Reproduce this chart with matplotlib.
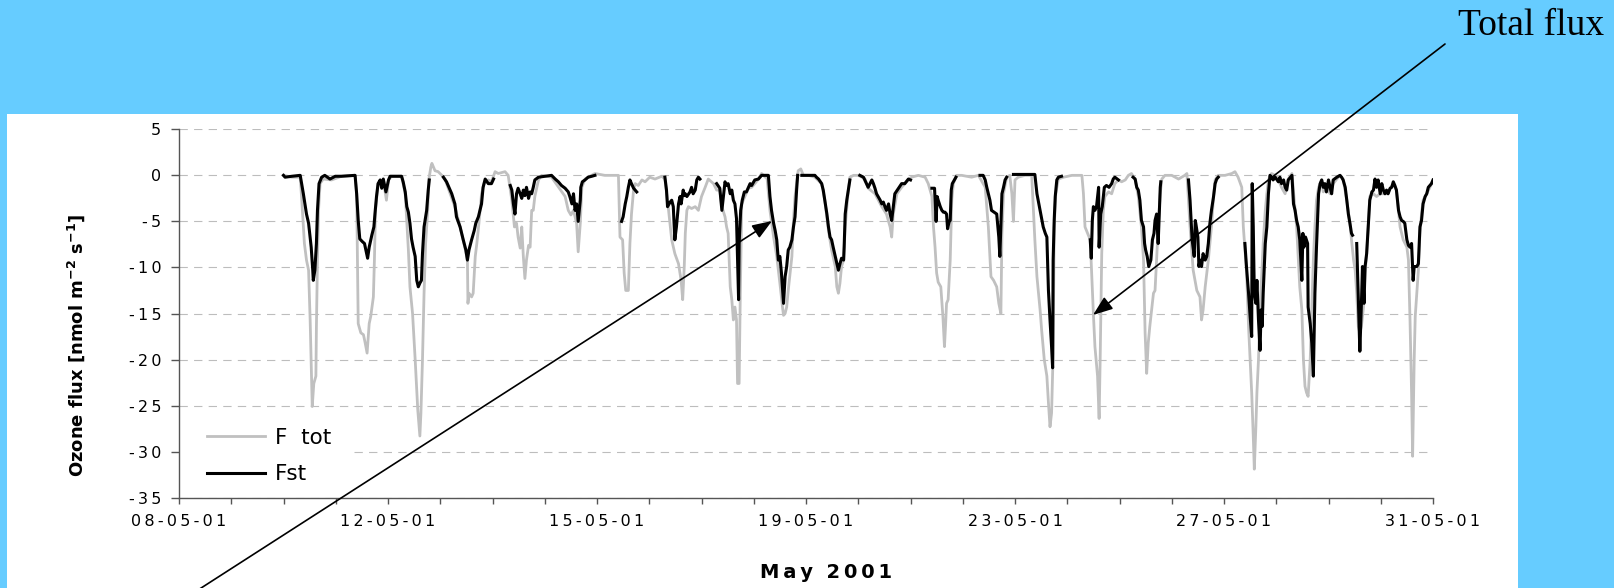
import numpy as np
import matplotlib
matplotlib.use('Agg')
import matplotlib.pyplot as plt
from matplotlib.patches import Rectangle

nan = np.nan

# x axis is a category axis: one tick per day, label every 4th tick
tick_labels = ['08-05-01', '12-05-01', '15-05-01', '19-05-01', '23-05-01', '27-05-01', '31-05-01']
label_pos = [0, 4, 8, 12, 16, 20, 24]
n_ticks = 25
y_ticks = [5, 0, -5, -10, -15, -20, -25, -30, -35]

# F tot (total ozone flux)
ftot_x = [2.00, 2.16, 2.32, 2.35, 2.40, 2.44, 2.48, 2.51, 2.54, 2.55, 2.58, 2.62, 2.63, 2.65, 2.67, 2.70, 2.76, 2.92, 3.11, 3.37,
          3.40, 3.43, 3.48, 3.53, 3.56, 3.60, 3.64, 3.67, 3.72, 3.74, 3.76, 3.81, 3.91, 3.97, 4.01, 4.07, 4.26,
          4.33, 4.39, 4.42, 4.47, 4.52, 4.57, 4.59, 4.61, 4.63, 4.66, 4.69, 4.72, 4.76, 4.78, 4.82, 4.84, 4.90, 4.96, 5.03, 5.09,
          5.19, 5.28, 5.38, 5.47, 5.52, 5.53, 5.55, 5.60, 5.63, 5.67, 5.70, 5.74, 5.79, 5.84, 5.92,
          5.98, 6.05, 6.11, 6.24, 6.30, 6.37, 6.42, 6.46, 6.49, 6.53, 6.56, 6.59, 6.62, 6.65, 6.69, 6.72, 6.75, 6.78, 6.81, 6.88, 6.94, 7.13,
          7.39, 7.45, 7.50, 7.55, 7.58, 7.61, 7.64, 7.68, 7.71, 7.77, 7.96, 8.15, 8.41,
          8.44, 8.49, 8.52, 8.55, 8.60, 8.63, 8.66, 8.70, 8.73, 8.79, 8.86, 8.92, 9.01, 9.11, 9.24, 9.30,
          9.37, 9.43, 9.49, 9.56, 9.61, 9.64, 9.67, 9.69, 9.72, 9.75, 9.81, 9.88, 9.94,
          10.00, 10.07, 10.13, 10.23, 10.29, 10.35, 10.39, 10.45, 10.48, 10.51, 10.55, 10.58, 10.61, 10.64, 10.67, 10.69, 10.72, 10.74,
          10.77, 10.83, 10.90, 10.96, 11.02, 11.09, 11.15, 11.22, 11.25,
          11.31, 11.38, 11.44, 11.50, 11.55, 11.57, 11.60, 11.63, 11.66, 11.73, 11.76, 11.79, 11.85, 11.90, 11.95, 12.05, 12.17,
          12.30, 12.36, 12.43, 12.49, 12.56, 12.59, 12.62, 12.65, 12.68, 12.72, 12.75, 12.81, 12.84, 12.91, 13.00, 13.07, 13.13,
          13.19, 13.32, 13.45, 13.54, 13.61, 13.64, 13.67, 13.74, 13.83, 13.96,
          14.02, 14.15, 14.28, 14.34, 14.41, 14.44, 14.47, 14.50, 14.53, 14.58, 14.62, 14.65, 14.67, 14.69, 14.72, 14.76, 14.79,
          14.82, 14.88, 14.98, 15.17, 15.30,
          15.43, 15.49, 15.54, 15.59, 15.65, 15.69, 15.73, 15.75, 15.78, 15.84, 15.90, 15.94, 15.97, 16.00, 16.06, 16.19, 16.32,
          16.38, 16.42, 16.45, 16.48, 16.51, 16.56, 16.61, 16.64, 16.67, 16.70, 16.73, 16.75, 16.78, 16.83, 16.93, 17.09, 17.28,
          17.31, 17.34, 17.39, 17.44, 17.47, 17.50, 17.53, 17.58, 17.61, 17.63, 17.66, 17.69, 17.72, 17.79, 17.85, 17.91, 17.98,
          18.04, 18.11, 18.17, 18.23, 18.30, 18.36, 18.42, 18.46, 18.49, 18.52, 18.55, 18.58, 18.62, 18.65, 18.68, 18.71, 18.74,
          18.78, 18.81, 18.87, 19.00, 19.13, 19.25, 19.29,
          19.32, 19.35, 19.41, 19.48, 19.54, 19.57, 19.60, 19.64, 19.70, 19.76, 19.80, 19.83, 19.89, 20.02, 20.15, 20.21, 20.27, 20.34,
          20.37, 20.43, 20.47, 20.50, 20.53, 20.56, 20.58, 20.61, 20.63, 20.66, 20.69, 20.75, 20.79, 20.82, 20.85, 20.91, 20.98,
          21.04, 21.10, 21.17, 21.23, 21.30,
          21.39, 21.45, 21.49, 21.52, 21.55, 21.58, 21.61, 21.65, 21.68, 21.71, 21.74, 21.77, 21.81, 21.87, 21.90, 21.96,
          22.03, 22.09, 22.16, 22.22, 22.28,
          22.35, 22.41, 22.44, 22.48, 22.51, 22.54, 22.57, 22.60, 22.63, 22.67, 22.70, 22.73, 22.76, 22.79, 22.86, 22.92, 22.99,
          23.11, 23.24, 23.30,
          23.37, 23.43, 23.50, 23.53, 23.56, 23.59, 23.61, 23.64, 23.66, 23.69, 23.72, 23.75, 23.78, 23.81, 23.88, 23.94, 24.00]
ftot_y = [0.0, -0.2, -0.2, -2.7, -7.4, -9.2, -10.3, -15.7, -22.6, -25.1, -22.6, -21.8, -16.4, -9.2, -3.8, -0.9, -0.4, -0.5, -0.1, 0.0,
          -2.0, -16.1, -17.1, -17.3, -18.1, -19.3, -16.1, -15.3, -13.2, -9.2, -3.8, -0.9, -0.5, -2.7, -0.5, -0.1, -0.1,
          -2.0, -8.1, -12.1, -15.0, -20.0, -25.5, -26.9, -28.3, -25.8, -20.0, -12.8, -7.4, -3.8, -0.5, 0.9, 1.3, 0.5, 0.4, 0.0, -0.4,
          -2.0, -3.4, -5.6, -7.8, -9.2, -13.9, -12.8, -13.2, -12.8, -8.8, -7.4, -5.2, -2.0, -0.9, -0.5,
          -0.7, 0.4, 0.2, 0.4, 0.0, -2.7, -5.6, -5.2, -6.7, -7.9, -5.6, -8.8, -11.2, -9.2, -7.6, -7.8, -3.8, -3.8, -2.3, -0.5, 0.0, -0.2,
          -2.3, -3.8, -4.3, -3.8, -4.5, -5.2, -8.3, -5.2, -1.3, -0.4, 0.2, 0.0, 0.0,
          -6.7, -7.0, -10.6, -12.5, -12.5, -7.4, -4.2, -1.6, -0.9, -1.1, -0.5, -0.7, -0.2, -0.4, -0.1, -0.4,
          -3.8, -7.0, -8.5, -9.6, -11.4, -13.5, -9.9, -6.3, -3.8, -3.4, -3.6, -3.4, -3.8,
          -2.3, -1.3, -0.4, -0.9, -1.6, -1.6, -3.4, -4.5, -5.6, -6.3, -12.1, -13.5, -15.7, -14.3, -15.7, -22.6, -22.6, -13.9,
          -3.1, -2.3, -1.4, -1.3, -0.9, -0.4, 0.2, -0.2, 0.0,
          -3.8, -6.7, -8.8, -11.7, -14.3, -15.2, -15.0, -14.3, -12.5, -8.8, -4.9, -2.3, 0.5, 0.7, 0.0, 0.0, -0.2,
          -0.9, -2.7, -6.0, -8.1, -9.9, -12.1, -12.8, -11.7, -9.9, -9.2, -5.6, -1.6, -0.2, 0.0, 0.0, -0.2, -0.4,
          -1.4, -2.0, -3.4, -4.2, -5.6, -6.7, -4.2, -2.0, -1.3, -0.5,
          -0.2, 0.0, -0.2, -0.9, -2.3, -5.6, -7.8, -10.6, -11.6, -12.1, -15.3, -18.6, -16.4, -13.9, -13.5, -9.2, -2.7,
          -0.9, 0.0, 0.0, -0.2, 0.0,
          -1.3, -5.6, -11.0, -11.4, -12.1, -13.9, -15.0, -6.3, -2.0, -0.2, 0.0, -2.0, -5.0, -0.5, -0.2, 0.0, 0.0,
          -7.0, -11.0, -12.8, -14.6, -16.8, -20.0, -21.8, -24.7, -27.3, -25.8, -19.3, -5.6, -2.0, -0.4, -0.2, 0.0, 0.0,
          -2.0, -5.6, -6.3, -7.0, -11.0, -15.0, -18.6, -21.8, -26.4, -20.0, -8.5, -3.8, -2.3, -1.8, -2.0, -0.9, -0.5,
          -0.7, -0.5, 0.0, 0.2, -0.5, -2.3, -5.6, -9.2, -17.1, -21.5, -18.2, -16.4, -14.3, -12.8, -12.5, -9.2, -5.6,
          -2.0, -0.4, 0.0, 0.0, -0.4, 0.0, 0.2,
          -2.7, -5.6, -10.3, -12.5, -13.2, -15.7, -14.6, -12.1, -9.2, -5.6, -2.3, -0.5, 0.0, 0.0, 0.2, 0.4, -0.2, -1.3,
          -5.6, -10.3, -16.4, -20.0, -23.6, -28.3, -31.9, -27.3, -23.6, -20.0, -14.6, -7.4, -3.8, -2.0, -0.5, 0.2, 0.0,
          -0.4, -1.3, -2.0, -0.4, 0.2,
          -5.6, -12.1, -14.6, -20.0, -22.9, -23.6, -24.0, -20.0, -14.6, -9.2, -5.6, -2.7, -1.3, -0.5, -1.8, -1.3,
          -2.0, -0.9, -0.4, 0.0, -0.4,
          -2.7, -5.2, -7.0, -9.2, -10.3, -12.8, -16.4, -17.1, -16.4, -14.3, -10.6, -8.5, -5.6, -2.3, -2.0, -2.3, -2.0,
          -2.0, -0.9, -1.6,
          -5.6, -7.0, -7.8, -9.2, -15.7, -23.6, -30.5, -20.0, -15.3, -12.8, -10.3, -6.3, -4.2, -2.7, -2.0, -1.3, -0.6]

# Fst (stomatal ozone flux); nan = no data
fst_x = [2.00, 2.03, 2.16, 2.32, 2.38, 2.44, 2.48, 2.53, 2.56, 2.57, 2.60, 2.63, 2.65, 2.68, 2.73, 2.79, 2.89, 2.99, 3.11, 3.37,
         3.40, 3.43, 3.46, 3.51, 3.55, 3.59, 3.61, 3.64, 3.69, 3.73, 3.75, 3.78, 3.81, 3.85, 3.88, 3.91, 3.96, 4.01, 4.04, 4.26, 4.29,
         4.33, 4.36, 4.39, 4.42, 4.45, 4.48, 4.52, 4.55, 4.58, 4.61, 4.64, 4.66, 4.69, 4.74, 4.77, 4.79, 4.80,
         5.06, 5.12, 5.19, 5.22, 5.28, 5.31, 5.38, 5.44, 5.49, 5.52, 5.55, 5.60, 5.65, 5.68, 5.73, 5.79, 5.82, 5.86, 5.92, 5.98, 6.02, 6.03,
         6.34, 6.37, 6.40, 6.43, 6.46, 6.49, 6.53, 6.56, 6.59, 6.62, 6.65, 6.69, 6.72, 6.75, 6.78, 6.81, 6.88, 7.13,
         7.20, 7.26, 7.32, 7.39, 7.45, 7.48, 7.52, 7.55, 7.58, 7.61, 7.64, 7.68, 7.69, 7.72, 7.77, 7.83, 7.90, 7.96, 7.97,
         8.47, 8.50, 8.54, 8.57, 8.60, 8.63, 8.66, 8.70, 8.76, 8.77,
         9.30, 9.33, 9.35, 9.40, 9.43, 9.46, 9.49, 9.52, 9.56, 9.59, 9.61, 9.65, 9.67, 9.69, 9.72, 9.78, 9.81, 9.84, 9.88, 9.91, 9.94,
         9.97, 9.98,
         10.29, 10.35, 10.39, 10.42, 10.45, 10.48, 10.51, 10.55, 10.58, 10.61, 10.64, 10.67, 10.71, 10.72, 10.75, 10.78, 10.82, 10.86,
         10.90, 10.93, 10.96, 11.02, 11.09, 11.15, 11.28,
         11.31, 11.34, 11.38, 11.41, 11.44, 11.47, 11.50, 11.53, 11.57, 11.60, 11.63, 11.66, 11.69, 11.73, 11.76, 11.79, 11.82, 11.84, 11.85,
         11.92, 12.01, 12.17, 12.20, 12.24, 12.30, 12.33, 12.36, 12.40, 12.43, 12.46, 12.49, 12.52, 12.56, 12.59, 12.62, 12.65, 12.68,
         12.72, 12.73, 12.75, 12.78, 12.81, 12.84, 12.85,
         13.03, 13.10, 13.19, 13.26, 13.29, 13.32, 13.35, 13.38, 13.42, 13.45, 13.48, 13.51, 13.54, 13.58, 13.61, 13.64, 13.67, 13.70,
         13.77, 13.83, 13.89, 13.96, 14.00, 14.01,
         14.41, 14.46, 14.49, 14.51, 14.53, 14.57, 14.60, 14.63, 14.66, 14.69, 14.71, 14.74, 14.76, 14.78, 14.80, 14.84, 14.87, 14.88,
         15.33, 15.39, 15.43, 15.46, 15.49, 15.52, 15.55, 15.60, 15.65, 15.69, 15.71, 15.75, 15.78, 15.81, 15.84, 15.85,
         15.97, 16.38, 16.42, 16.45, 16.48, 16.51, 16.54, 16.58, 16.61, 16.64, 16.67, 16.70, 16.72, 16.73, 16.75, 16.77, 16.80, 16.83,
         16.89, 16.90,
         17.44, 17.46, 17.48, 17.50, 17.53, 17.56, 17.60, 17.61, 17.64, 17.67, 17.71, 17.75, 17.80, 17.85, 17.88, 17.91, 17.98, 18.01,
         18.26, 18.30, 18.33, 18.36, 18.39, 18.42, 18.46, 18.48, 18.50, 18.53, 18.56, 18.60, 18.63, 18.66, 18.68, 18.71, 18.74, 18.78,
         18.79, 18.80,
         19.32, 19.35, 19.37, 19.39, 19.43, 19.45, 19.46, 19.50, 19.52, 19.54, 19.57, 19.60, 19.64, 19.67, 19.70, 19.73, 19.76, 19.80,
         19.83, 19.86, 19.89, 19.90,
         20.40, 20.43, 20.47, 20.50, 20.53, 20.54, 20.56, 20.58, 20.61, 20.63, 20.66, 20.69, 20.71, 20.73, 20.75, 20.79, 20.82, 20.85,
         20.88, 20.91, 20.94, 20.98, 21.04, 21.07, 21.10, 21.14, 21.17, 21.20, 21.23, 21.30,
         21.33, 21.36, 21.39, 21.42, 21.45, 21.49, 21.51, 21.53, 21.56, 21.60, 21.61, 21.65, 21.68, 21.71, 21.74, 21.77, 21.81, 21.84,
         21.87, 21.90, 21.93, 21.96, 22.00, 22.03, 22.06, 22.09, 22.16, 22.22, 22.25, 22.28,
         22.32, 22.35, 22.38, 22.41, 22.44, 22.46, 22.47,
         22.54, 22.60, 22.63, 22.65, 22.68, 22.70, 22.73, 22.76, 22.79, 22.83, 22.86, 22.89, 22.92, 22.95, 22.99, 23.02, 23.05, 23.08,
         23.11, 23.14, 23.18, 23.21, 23.24, 23.27, 23.30,
         23.34, 23.37, 23.40, 23.43, 23.46, 23.50, 23.53, 23.56, 23.59, 23.62, 23.64, 23.69, 23.72, 23.75, 23.78, 23.81, 23.85, 23.88,
         23.91, 23.94, 23.97, 24.00]
fst_y = [0.0, -0.2, -0.1, 0.0, -2.0, -4.2, -5.2, -7.8, -10.3, -11.4, -10.3, -7.4, -3.8, -0.9, -0.2, 0.0, -0.4, -0.1, -0.1, 0.0,
         -2.0, -4.9, -6.9, -7.2, -7.4, -8.5, -9.0, -7.8, -6.5, -5.6, -4.2, -2.3, -0.9, -0.5, -1.4, -0.4, -1.8, -0.5, -0.1, -0.1, -0.7,
         -1.8, -3.4, -4.0, -5.2, -6.9, -7.8, -8.8, -11.4, -12.1, -11.7, -11.4, -8.5, -5.6, -3.8, -1.6, -0.5, nan,
         -0.2, -0.7, -1.6, -2.0, -3.1, -4.5, -5.6, -7.0, -8.1, -9.2, -8.1, -7.0, -6.0, -5.2, -4.5, -3.1, -1.3, -0.4, -0.9, -0.9, -0.4, nan,
         -1.1, -1.6, -3.1, -4.2, -2.0, -1.4, -2.0, -2.5, -1.6, -2.2, -1.3, -2.5, -1.8, -2.0, -1.3, -0.5, -0.2, 0.0,
         -0.4, -0.7, -1.1, -1.4, -1.8, -2.3, -3.1, -2.0, -3.8, -3.1, -5.0, -2.7, -1.3, -0.7, -0.5, -0.2, -0.1, 0.0, nan,
         -5.0, -4.5, -3.1, -2.3, -1.3, -0.5, -0.9, -1.4, -1.8, nan,
         -0.2, -1.6, -3.4, -2.9, -2.7, -3.4, -7.0, -5.6, -3.1, -2.3, -3.1, -1.6, -2.2, -2.0, -2.3, -1.8, -1.3, -2.0, -1.6, -0.5, -0.2,
         -0.4, nan,
         -0.9, -1.4, -3.8, -2.3, -0.7, -1.1, -0.9, -2.0, -1.6, -2.7, -3.1, -4.7, -13.5, -7.4, -3.8, -2.7, -1.8, -1.8,
         -1.3, -0.9, -1.1, -0.5, -0.4, 0.0, 0.0,
         -2.3, -3.8, -5.2, -6.0, -7.0, -9.2, -8.8, -10.6, -13.9, -11.0, -9.9, -8.1, -7.8, -7.0, -5.6, -4.5, -1.6, 0.0, nan,
         0.0, 0.0, 0.0, -0.2, -0.4, -0.9, -1.6, -2.7, -4.2, -5.6, -6.7, -7.0, -7.8, -8.8, -9.6, -10.3, -9.6, -9.0,
         -9.2, -7.8, -4.2, -2.7, -1.6, -0.5, nan,
         0.0, -0.2, -1.3, -0.5, -0.9, -1.4, -2.0, -2.3, -2.7, -3.1, -2.9, -3.4, -3.8, -3.1, -4.2, -4.9, -3.4, -2.0,
         -1.4, -0.9, -0.9, -0.4, -0.5, nan,
         -1.4, -1.4, -5.0, -2.3, -2.7, -3.4, -3.8, -4.0, -4.0, -4.2, -5.8, -5.0, -4.9, -1.6, -0.9, -0.5, -0.2, nan,
         0.0, 0.0, -0.5, -1.3, -2.0, -2.7, -3.8, -4.0, -4.2, -6.7, -8.8, -2.0, -1.3, -0.5, -0.2, nan,
         0.1, 0.1, -2.0, -2.9, -3.8, -4.7, -5.6, -6.3, -6.7, -12.5, -15.7, -18.6, -20.9, -9.2, -4.9, -2.3, -0.5, -0.2,
         -0.1, nan,
         -7.0, -9.0, -4.9, -3.4, -3.8, -3.4, -1.3, -7.8, -4.2, -3.4, -1.3, -1.1, -1.3, -0.9, -0.4, -0.2, -0.5, nan,
         -0.2, -0.4, -1.3, -1.6, -2.7, -4.9, -5.6, -7.4, -8.1, -8.8, -9.9, -9.2, -7.0, -6.3, -4.9, -4.2, -7.4, -1.3,
         -0.7, nan,
         -0.5, -2.7, -4.9, -7.0, -8.8, -4.9, -5.2, -6.7, -9.9, -9.2, -9.9, -8.5, -9.2, -8.8, -7.4, -5.2, -3.8, -2.3,
         -0.9, -0.4, -0.2, nan,
         -7.4, -9.9, -12.8, -15.3, -17.5, -0.9, -5.6, -12.8, -13.9, -11.4, -15.7, -19.0, -14.6, -16.4, -12.8, -7.4, -5.6, -2.0,
         0.0, -0.2, -0.5, -0.2, -0.7, -0.2, -0.9, -0.5, -1.3, -1.6, -0.5, 0.0,
         -3.1, -3.8, -4.9, -5.6, -7.0, -11.4, -6.3, -7.8, -6.7, -7.4, -14.3, -16.1, -18.2, -21.8, -12.8, -7.8, -2.0, -0.9,
         -0.5, -1.3, -0.9, -1.8, -0.5, -1.3, -2.0, -0.5, -0.2, 0.0, -0.2, -0.5,
         -1.3, -2.7, -4.2, -5.2, -6.3, -6.5, nan,
         -7.4, -19.1, -13.9, -9.9, -13.9, -9.9, -8.5, -5.6, -2.7, -1.8, -1.6, -0.4, -1.3, -0.5, -2.0, -0.9, -1.6, -2.0,
         -1.6, -2.0, -1.4, -1.3, -0.7, -1.1, -1.6,
         -3.8, -4.5, -4.9, -5.0, -5.2, -7.0, -7.6, -7.8, -7.4, -11.4, -9.9, -9.9, -9.6, -5.6, -4.9, -3.1, -2.3, -2.0,
         -1.3, -1.1, -0.9, -0.5]


def spaced(s, gap='\u2009'):
    # the original chart text is drawn stretched, so space the characters out
    return gap.join(s)


plt.rcParams['font.family'] = 'DejaVu Sans'
plt.rcParams['lines.scale_dashes'] = False

W, H = 1614, 588
fig = plt.figure(figsize=(W / 100, H / 100), dpi=100, facecolor='#66CCFF')

# white chart panel on the blue slide
fig.add_artist(Rectangle((7 / W, 0), (1518 - 7) / W, (H - 114) / H, transform=fig.transFigure,
                         facecolor='white', edgecolor='none', zorder=-1))

ax = fig.add_axes([179 / W, (H - 497.7) / H, 1254 / W, 368.4 / H])
ax.set_facecolor('none')

ax.plot(ftot_x, ftot_y, color='#C0C0C0', lw=2.0, label='F  tot', zorder=2)
ax.plot(fst_x, fst_y, color='black', lw=2.2, label='Fst', zorder=3)

ax.set_xlim(0, n_ticks - 1)
ax.set_ylim(-35, 5)

xl = [''] * n_ticks
for p, t in zip(label_pos, tick_labels):
    xl[p] = spaced(t)
ax.set_xticks(range(n_ticks))
ax.set_xticklabels(xl)
ax.set_yticks(y_ticks)
ax.set_yticklabels([spaced(str(v)) for v in y_ticks])

ax.set_axisbelow(True)
ax.grid(axis='y', color='#BDBDBD', linestyle=(0, (6, 4.5)), lw=0.8)
for s in ['top', 'right']:
    ax.spines[s].set_visible(False)
for s in ['left', 'bottom']:
    ax.spines[s].set_color('#555555')
    ax.spines[s].set_linewidth(1)
ax.tick_params(axis='y', direction='out', length=5.8, width=1, color='#555555', pad=7, labelsize=11.5)
ax.tick_params(axis='x', direction='out', length=4, width=1, color='#555555', pad=8, labelsize=11.5)

# white box behind the legend (hides the -30 grid line there)
ax.add_patch(Rectangle((0, -34.4), 0.137, 7.3, transform=ax.get_yaxis_transform(),
                       facecolor='white', edgecolor='none', zorder=1))
ax.legend(loc='center left', bbox_to_anchor=(28 / 1254, (497.7 - 456) / 368.4), frameon=False,
          borderpad=0, borderaxespad=0, handlelength=2.7, handletextpad=0.45, labelspacing=0.75,
          fontsize=15.5)

fig.text(76 / W, 1 - 345 / H, 'Ozone flux [nmol m$^{\\mathbf{-2}}$ s$^{\\mathbf{-1}}$]',
         rotation=90, ha='center', va='center', fontsize=13, fontweight='bold')
fig.text(826 / W, 1 - 572 / H, spaced('May') + '  ' + spaced('2001'), ha='center', va='center',
         fontsize=14, fontweight='bold')

fig.text(1458 / W, (H - 35) / H, 'Total flux', family='Liberation Serif', fontsize=27,
         ha='left', va='baseline')

arrow = dict(arrowstyle='-|>,head_length=0.8,head_width=0.3', color='black', lw=1.2,
             shrinkA=0, shrinkB=0, mutation_scale=15)
ax.annotate('', xy=(772, H - 221), xycoords='figure pixels', xytext=(198, -2),
            textcoords='figure pixels', arrowprops=arrow, zorder=5)
ax.annotate('', xy=(1093, H - 315), xycoords='figure pixels', xytext=(1445, H - 44),
            textcoords='figure pixels', arrowprops=arrow, zorder=5)

fig.savefig('out.png', dpi=100, facecolor=fig.get_facecolor())
